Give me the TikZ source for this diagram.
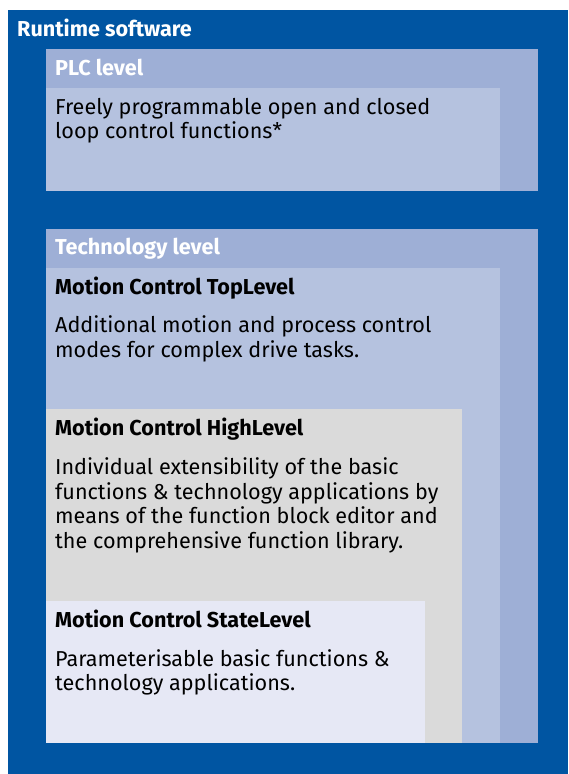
\documentclass[tikz,border=0pt]{standalone}
\usepackage{fontspec}
\setmainfont{Fira Sans}
\usepackage{tikz}
\usetikzlibrary{positioning}

\definecolor{runtimeblue}{HTML}{0055A2}
\definecolor{headblue}{HTML}{9EAFD6}
\definecolor{bodyblue}{HTML}{B5C2DF}
\definecolor{highgray}{HTML}{DADADA}
\definecolor{statewhite}{HTML}{E6E8F5}

\begin{document}
\begin{tikzpicture}[x=1pt, y=-1pt,
    panel/.style={rectangle, anchor=north west, inner sep=0pt, outer sep=0pt, draw=none},
    headtext/.style={anchor=base west, inner sep=0pt, font=\fontsize{21.6}{24.8}\selectfont\bfseries, text=white},
    titletext/.style={anchor=base west, inner sep=0pt, font=\fontsize{21.6}{24.8}\selectfont\bfseries, text=black},
    bodytext/.style={anchor=base west, inner sep=0pt, align=left, font=\fontsize{21.6}{24.8}\selectfont, text=black}
]
\useasboundingbox (0,0) rectangle (568,774);

% Runtime frame
\node[panel, fill=runtimeblue, minimum width=560pt, minimum height=764pt] (runtime) at (8,10) {};
\node[headtext] (runtimelabel) at (17,36) {Runtime software};

% PLC level
\node[panel, fill=headblue, minimum width=492pt, minimum height=142pt] (plc) at (46,49) {};
\node[panel, fill=bodyblue, minimum width=454pt, minimum height=103pt] (plcbody) at (46,88) {};
\node[headtext] (plclabel) at (55,75) {PLC level};
% base = last line
\node[bodytext] (plctext) at (55,138.8) {Freely programmable open and closed\\loop control functions*};

% Technology level
\node[panel, fill=headblue, minimum width=492pt, minimum height=514pt] (tech) at (46,229) {};
\node[headtext] (techlabel) at (55,254) {Technology level};

% Motion Control levels
\node[panel, fill=bodyblue, minimum width=454pt, minimum height=475pt] (top) at (46,268) {};
\node[titletext] (toplabel) at (55,294) {Motion Control TopLevel};
\node[bodytext] (toptext) at (55,357.3) {Additional motion and process control\\modes for complex drive tasks.};

\node[panel, fill=highgray, minimum width=416pt, minimum height=334pt] (high) at (46,409) {};
\node[titletext] (highlabel) at (55,435) {Motion Control HighLevel};
\node[bodytext] (hightext) at (55,548.7) {Individual extensibility of the basic\\functions \& technology applications by\\means of the function block editor and\\the comprehensive function library.};

\node[panel, fill=statewhite, minimum width=379pt, minimum height=142pt] (state) at (46,601) {};
\node[titletext] (statelabel) at (55,627) {Motion Control StateLevel};
\node[bodytext] (statetext) at (55,690.8) {Parameterisable basic functions \&\\technology applications.};

\end{tikzpicture}
\end{document}
